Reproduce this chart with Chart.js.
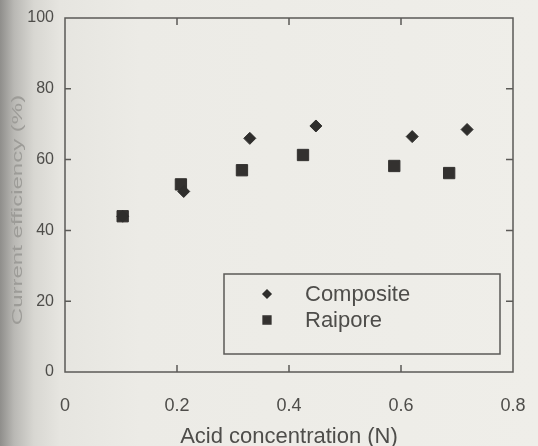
<!DOCTYPE html>
<html>
<head>
<meta charset="utf-8">
<script src="https://cdn.jsdelivr.net/npm/chart.js@4/dist/chart.umd.min.js"></script>
<style>
html, body { margin: 0; padding: 0; }
body {
  width: 538px; height: 446px; overflow: hidden;
  background: linear-gradient(to right, #8f8e8b 0px, #b9b8b4 14px, #d8d7d2 34px, #e6e5e0 60px, #ecebe6 140px, #efeee9 100%);
}
#wrap { position: relative; width: 538px; height: 446px; }
</style>
</head>
<body>
<div id="wrap"><canvas id="myChart" width="538" height="446"></canvas></div>
<script>
// values
var compositeX = [0.103, 0.212, 0.330, 0.448, 0.620, 0.718];
var compositeY = [44, 51, 66, 69.5, 66.5, 68.5];
var raiporeX = [0.103, 0.207, 0.316, 0.425, 0.588, 0.686];
var raiporeY = [44, 53, 57, 61.3, 58.2, 56.2];
var xTicks = [0, 0.2, 0.4, 0.6, 0.8];
var yTicks = [0, 20, 40, 60, 80, 100];
var yTitle = 'Current efficiency (%)';

var compositeData = [], raiporeData = [];
for (var i = 0; i < compositeX.length; i++) compositeData.push({x: compositeX[i], y: compositeY[i]});
for (var j = 0; j < raiporeX.length; j++) raiporeData.push({x: raiporeX[j], y: raiporeY[j]});

var lineCol = '#5b5a57';
var textCol = '#4e4d4a';

// frame with inward ticks, the faint stretched y title, and the boxed legend
var frameTicks = {
  id: 'frameTicks',
  afterDatasetsDraw: function(chart) {
    var ctx = chart.ctx, a = chart.chartArea;
    var xs = chart.scales.x, ys = chart.scales.y;
    ctx.save();
    ctx.strokeStyle = lineCol;
    ctx.lineWidth = 1.5;
    ctx.strokeRect(a.left, a.top, a.right - a.left, a.bottom - a.top);
    ctx.beginPath();
    yTicks.forEach(function(v) {
      if (v <= 0 || v >= 100) return;
      var y = ys.getPixelForValue(v);
      ctx.moveTo(a.left, y); ctx.lineTo(a.left + 6, y);
      ctx.moveTo(a.right, y); ctx.lineTo(a.right - 7, y);
    });
    xTicks.forEach(function(v) {
      if (v <= 0 || v >= 0.8) return;
      var x = xs.getPixelForValue(v);
      ctx.moveTo(x, a.bottom); ctx.lineTo(x, a.bottom - 7);
      ctx.moveTo(x, a.top); ctx.lineTo(x, a.top + 7);
    });
    ctx.stroke();

    // y title, stretched along its length like the scan
    ctx.save();
    ctx.translate(18, 210);
    ctx.rotate(-Math.PI / 2);
    ctx.scale(1.6, 1);
    ctx.font = '15px "Liberation Sans", Arial, sans-serif';
    ctx.fillStyle = '#9d9c98';
    ctx.textAlign = 'center';
    ctx.textBaseline = 'middle';
    ctx.fillText(yTitle, 0, 0);
    ctx.restore();

    // legend box
    var bx = a.left + 159, by = a.top + 256, bw = 276, bh = 80;
    ctx.lineWidth = 1.5;
    ctx.strokeRect(bx, by, bw, bh);
    var sets = chart.data.datasets;
    ctx.font = '22px "Liberation Sans", Arial, sans-serif';
    ctx.textBaseline = 'middle';
    ctx.textAlign = 'left';
    for (var k = 0; k < sets.length; k++) {
      var cy = by + 20 + k * 26;
      ctx.fillStyle = sets[k].backgroundColor;
      ctx.strokeStyle = sets[k].borderColor;
      Chart.helpers.drawPoint(ctx, {pointStyle: sets[k].pointStyle, radius: k === 0 ? 4 : 5.5, borderWidth: 1}, bx + 43, cy);
      ctx.fillStyle = textCol;
      ctx.fillText(sets[k].label, bx + 81, cy + 1);
    }
    ctx.restore();
  }
};

var ctx = document.getElementById('myChart').getContext('2d');
var myChart = new Chart(ctx, {
  type: 'scatter',
  data: {
    datasets: [{
      label: 'Composite',
      data: compositeData,
      pointStyle: 'rectRot',
      pointRadius: 6,
      backgroundColor: '#2f2e2c',
      borderColor: '#2f2e2c',
      borderWidth: 1
    }, {
      label: 'Raipore',
      data: raiporeData,
      pointStyle: 'rect',
      pointRadius: 8,
      backgroundColor: '#33312f',
      borderColor: '#33312f',
      borderWidth: 1
    }]
  },
  options: {
    responsive: false,
    animation: false,
    layout: { padding: { left: 0, right: 25, top: 18, bottom: 0 } },
    plugins: {
      legend: { display: false },
      tooltip: { enabled: false }
    },
    scales: {
      x: {
        type: 'linear',
        min: 0, max: 0.8,
        afterFit: function(s) { s.height = 74; s.paddingLeft = 0; s.paddingRight = 0; },
        afterBuildTicks: function(s) { s.ticks = xTicks.map(function(v) { return {value: v}; }); },
        grid: { display: false, drawTicks: false },
        border: { display: false },
        ticks: {
          padding: 23,
          color: textCol,
          font: { family: '"Liberation Sans", Arial, sans-serif', size: 18 },
          callback: function(v) { return v === 0 ? '0' : v.toFixed(1); }
        },
        title: {
          display: true,
          text: 'Acid concentration (N)',
          color: textCol,
          font: { family: '"Liberation Sans", Arial, sans-serif', size: 22, lineHeight: 0.8 },
          padding: { top: 0, bottom: 0 }
        }
      },
      y: {
        min: 0, max: 100,
        afterFit: function(s) { s.width = 65; s.paddingTop = 0; s.paddingBottom = 0; },
        afterBuildTicks: function(s) { s.ticks = yTicks.map(function(v) { return {value: v}; }); },
        grid: { display: false, drawTicks: false },
        border: { display: false },
        ticks: {
          padding: 11,
          color: textCol,
          font: { family: '"Liberation Sans Narrow", "Liberation Sans", Arial, sans-serif', size: 16 }
        }
      }
    }
  },
  plugins: [frameTicks]
});
</script>
</body>
</html>
